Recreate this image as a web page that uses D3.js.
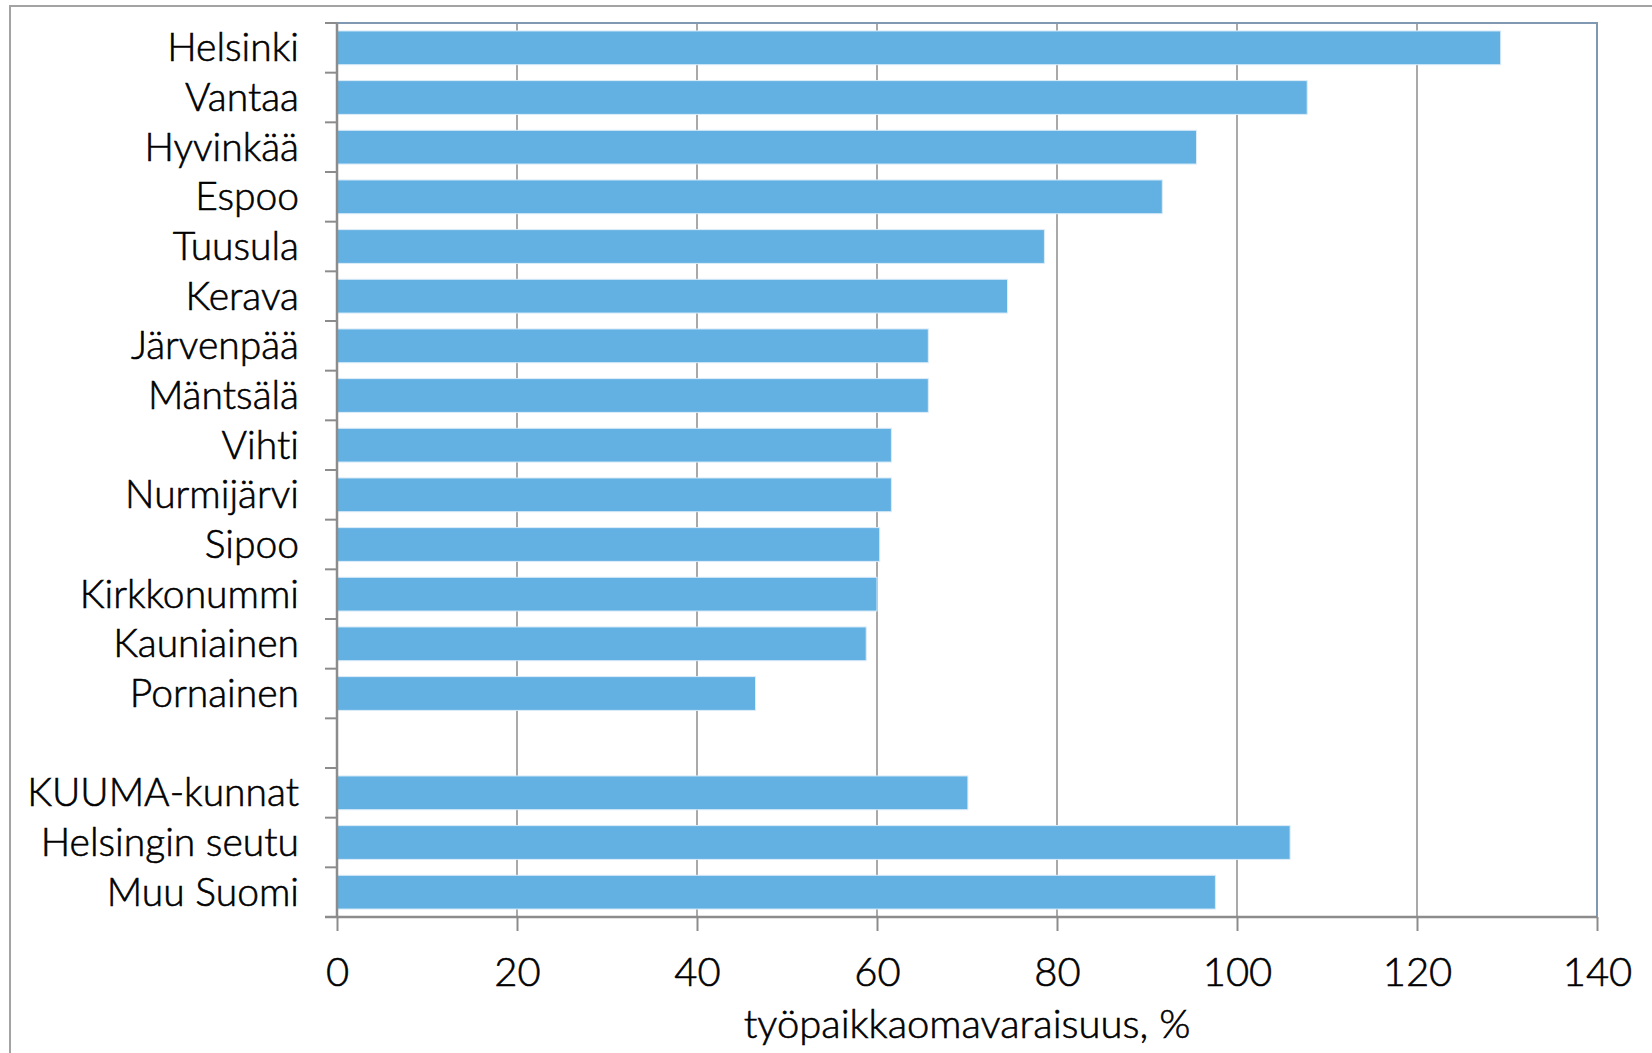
<!DOCTYPE html>
<html>
<head>
<meta charset="utf-8">
<script src="https://cdn.jsdelivr.net/npm/d3@7"></script>
<style>
  body { margin: 0; background: #fff; }
  svg text { font-family: Lato, "Open Sans", sans-serif; font-weight: 300;
    font-variant-ligatures: none; fill: #000; stroke: #000; stroke-width: 0.6px; }
</style>
</head>
<body>
<div id="chart"></div>
<script>
// data (blank row separates the regions)
var areas = ["Helsinki", "Vantaa", "Hyvinkää", "Espoo", "Tuusula", "Kerava",
  "Järvenpää", "Mäntsälä", "Vihti", "Nurmijärvi", "Sipoo", "Kirkkonummi",
  "Kauniainen", "Pornainen", "", "KUUMA-kunnat", "Helsingin seutu", "Muu Suomi"];
var values = [129.3, 107.8, 95.5, 91.7, 78.6, 74.5, 65.7, 65.7, 61.6, 61.6,
  60.3, 60.0, 58.8, 46.5, null, 70.1, 105.9, 97.6];
var xTicks = [0, 20, 40, 60, 80, 100, 120, 140];
var xTitle = "työpaikkaomavaraisuus, %";

var width = 1652, height = 1053;
var margin = {top: 23, right: 55, bottom: 136, left: 337};
var plotW = width - margin.left - margin.right,
    plotH = height - margin.top - margin.bottom;

var data = areas.map((a, i) => ({key: i, name: a, value: values[i]}));

var svg = d3.select("#chart").append("svg")
  .attr("width", width)
  .attr("height", height);

// outer chart border
svg.append("path")
  .attr("d", `M10,${height} L10,6 L${width},6`)
  .attr("fill", "none")
  .attr("stroke", "#a3a3a3")
  .attr("stroke-width", 2);

var g = svg.append("g")
  .attr("transform", "translate(" + margin.left + "," + margin.top + ")");

var x = d3.scaleLinear().domain([0, 140]).range([0, plotW]);
var y = d3.scaleBand()
  .domain(data.map(d => d.key))
  .range([0, plotH])
  .paddingInner(0.32)
  .paddingOuter(0.16);

// gridlines
g.selectAll(".grid")
  .data(xTicks.filter(t => t > 0 && t < 140))
  .enter().append("line")
  .attr("x1", d => x(d)).attr("x2", d => x(d))
  .attr("y1", 0).attr("y2", plotH)
  .attr("stroke", "#8c8c8c")
  .attr("stroke-width", 1.5);

// plot frame top & right
g.append("path")
  .attr("d", `M0,0 L${x(140)},0 L${x(140)},${plotH}`)
  .attr("fill", "none")
  .attr("stroke", "#8198b2")
  .attr("stroke-width", 2);

// bars
g.selectAll(".bar")
  .data(data.filter(d => d.value != null))
  .enter().append("rect")
  .attr("class", "bar")
  .attr("x", x(0))
  .attr("y", d => y(d.key))
  .attr("width", d => x(d.value) - x(0))
  .attr("height", y.bandwidth())
  .attr("fill", "#63b1e2")
  .attr("stroke", "#dcecf8")
  .attr("stroke-width", 1);

// x axis
var step = y.step();
var xAxis = d3.axisBottom(x).tickValues(xTicks).tickSize(14).tickPadding(27);
var xa = g.append("g")
  .attr("transform", `translate(0,${plotH})`)
  .call(xAxis);
xa.select(".domain").attr("stroke", "#8c8c8c").attr("stroke-width", 2.5)
  .attr("d", `M${-12},0H${x(140)}`);
xa.selectAll(".tick line").attr("stroke", "#8c8c8c").attr("stroke-width", 2);
xa.selectAll(".tick text")
  .attr("font-size", "40px")
  .attr("font-family", "Lato, 'Open Sans', sans-serif");

// y axis: ticks on band boundaries
var yBounds = d3.range(areas.length + 1).map(i => i * step);
g.append("line")
  .attr("x1", 0).attr("x2", 0).attr("y1", 0).attr("y2", plotH)
  .attr("stroke", "#8c8c8c").attr("stroke-width", 2.5);
g.selectAll(".ytick")
  .data(yBounds)
  .enter().append("line")
  .attr("x1", -12).attr("x2", 0)
  .attr("y1", d => d).attr("y2", d => d)
  .attr("stroke", "#8c8c8c").attr("stroke-width", 2);

g.selectAll(".ylabel")
  .data(data)
  .enter().append("text")
  .attr("x", -38)
  .attr("y", d => y(d.key) + y.bandwidth() / 2)
  .attr("dy", "0.35em")
  .attr("text-anchor", "end")
  .attr("font-size", "39px")
  .text(d => d.name);

// x title
svg.append("text")
  .attr("x", margin.left + plotW / 2)
  .attr("y", 1038)
  .attr("text-anchor", "middle")
  .attr("font-size", "40px")
  .text(xTitle);
</script>
</body>
</html>
